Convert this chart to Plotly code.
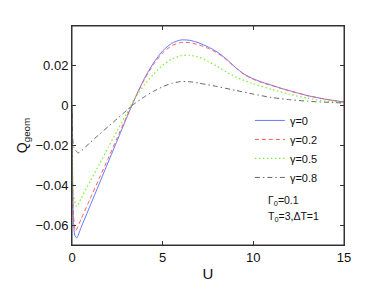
import plotly.graph_objects as go

# U values and Q_geom for each gamma
U0 = [0, 0.03, 0.08, 0.15, 0.26, 0.5, 1, 1.5, 2, 2.5, 3, 3.3, 3.6, 4, 4.5, 5, 5.5, 6, 6.5, 7, 7.5, 8, 8.5, 9, 9.5, 10, 10.5, 11, 11.5, 12, 12.5, 13, 14, 15]
Q_g0 = [0, -0.035, -0.058, -0.065, -0.0665, -0.0612, -0.0503, -0.0393, -0.0283, -0.0174, -0.0064, 0.0, 0.0062, 0.0138, 0.0215, 0.0275, 0.0313, 0.033, 0.0328, 0.0315, 0.0295, 0.027, 0.0235, 0.0193, 0.0158, 0.0135, 0.0117, 0.0103, 0.0088, 0.0075, 0.0062, 0.005, 0.0032, 0.0018]

U2 = [0, 0.03, 0.08, 0.2, 0.5, 1, 1.5, 2, 2.5, 3, 3.3, 3.6, 4, 4.5, 5, 5.5, 6, 6.5, 7, 7.5, 8, 8.5, 9, 9.5, 10, 10.5, 11, 12, 13, 14, 15]
Q_g2 = [0, -0.035, -0.055, -0.0628, -0.057, -0.0468, -0.0366, -0.0264, -0.016, -0.0058, 0.0004, 0.006, 0.0133, 0.0207, 0.0265, 0.0301, 0.0317, 0.0316, 0.0305, 0.0288, 0.0265, 0.0232, 0.0192, 0.0156, 0.0132, 0.0115, 0.0101, 0.0074, 0.005, 0.0032, 0.0018]

U5 = [0, 0.03, 0.08, 0.26, 0.5, 1, 1.5, 2, 2.5, 3, 3.3, 3.6, 4, 4.5, 5, 5.5, 6, 6.5, 7, 7.5, 8, 8.5, 9, 9.5, 10, 11, 12, 13, 14, 15]
Q_g5 = [0, -0.03, -0.045, -0.0507, -0.0466, -0.038, -0.0295, -0.021, -0.0125, -0.0042, 0.001, 0.0055, 0.0105, 0.0158, 0.0203, 0.0234, 0.025, 0.0253, 0.0243, 0.0222, 0.0198, 0.017, 0.0146, 0.0126, 0.011, 0.0082, 0.0057, 0.0037, 0.0023, 0.0014]

U8 = [0, 0.03, 0.1, 0.35, 1, 1.5, 2, 2.5, 3, 3.3, 4, 4.5, 5, 5.5, 6, 6.5, 7, 8, 9, 10, 11, 12, 13, 14, 15]
Q_g8 = [-0.004, -0.015, -0.021, -0.0237, -0.0185, -0.0145, -0.0105, -0.0065, -0.0025, 0.0, 0.0045, 0.0072, 0.0095, 0.0112, 0.0121, 0.012, 0.0113, 0.0096, 0.0077, 0.0058, 0.0041, 0.003, 0.0022, 0.0017, 0.0013]

labels = ["γ=0", "γ=0.2", "γ=0.5", "γ=0.8"]
x_ticks = [0, 5, 10, 15]
y_ticks = [-0.06, -0.04, -0.02, 0, 0.02]
y_tick_text = ["−0.06", "−0.04", "−0.02", "0", "0.02"]

series = [
    (U0, Q_g0, "#6677ff", "solid", 1.0),
    (U2, Q_g2, "#ff5c5c", "4px,3px", 1.0),
    (U5, Q_g5, "#77f033", "1.5px,2.5px", 1.2),
    (U8, Q_g8, "#555555", "5px,3px,1.5px,3px", 0.9),
]

fig = go.Figure()
for (u, q, c, d, w), name in zip(series, labels):
    fig.add_trace(go.Scatter(x=u, y=q, mode="lines", name=name,
                             line=dict(color=c, dash=d, width=w, shape="spline", smoothing=0.6)))

font = "Liberation Sans, Arial, Helvetica, sans-serif"
axis_common = dict(showline=True, linecolor="#333333", linewidth=1, mirror="ticks",
                   ticks="inside", ticklen=4, tickcolor="#333333", showgrid=False,
                   zeroline=False, tickfont=dict(family=font, size=13, color="#111111"))

fig.update_layout(
    width=372, height=290,
    margin=dict(l=72, r=28, t=26, b=45),
    paper_bgcolor="white", plot_bgcolor="white",
    font=dict(family=font, color="#111111"),
    showlegend=True,
    legend=dict(x=0.654, y=0.635, xanchor="left", yanchor="top", bgcolor="rgba(0,0,0,0)",
                font=dict(family=font, size=11), borderwidth=0, tracegroupgap=0),
    xaxis=dict(range=[0, 15], tickvals=x_ticks, title=dict(text="U", font=dict(size=15), standoff=4), **axis_common),
    yaxis=dict(range=[-0.07, 0.04], tickvals=y_ticks, ticktext=y_tick_text,
               title=dict(text="Q<sub>geom</sub>", font=dict(size=14), standoff=4), **axis_common),
    shapes=[dict(type="rect", xref="paper", yref="paper", x0=0, x1=1, y0=0, y1=1,
                 line=dict(color="#333333", width=1), fillcolor="rgba(0,0,0,0)", layer="above")],
    annotations=[
        dict(text="Γ<sub>0</sub>=0.1", xref="paper", yref="paper", x=0.715, y=0.2, xanchor="left",
             yanchor="middle", showarrow=False, font=dict(family=font, size=10.5)),
        dict(text="T<sub>0</sub>=3,ΔT=1", xref="paper", yref="paper", x=0.715, y=0.13, xanchor="left",
             yanchor="middle", showarrow=False, font=dict(family=font, size=10.5)),
    ],
)

fig.write_html("out.html", config={"displayModeBar": False},
               post_script="document.body.style.margin='0';")
